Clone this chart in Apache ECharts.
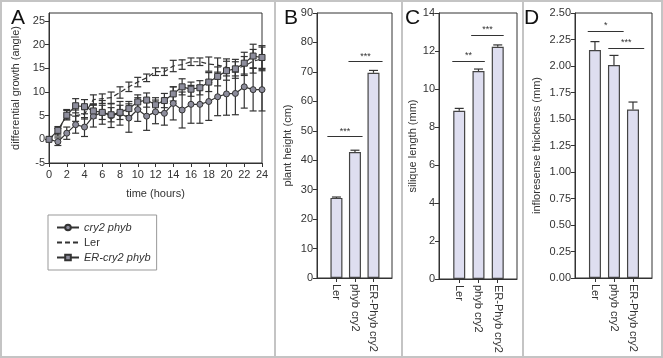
<!DOCTYPE html>
<html><head><meta charset="utf-8">
<script src="https://cdn.jsdelivr.net/npm/echarts@6/dist/echarts.min.js"></script>
<style>html,body{margin:0;padding:0;background:#fff}#c{width:663px;height:358px}</style>
</head><body><div id="c"></div>
<script>
// ---------- Panel A data ----------
const hours = [0,1,2,3,4,5,6,7,8,9,10,11,12,13,14,15,16,17,18,19,20,21,22,23,24];
const cry2phyb    = [0,-0.5,1.3,3.1,2.6,4.9,5.7,5.0,5.5,4.5,6.3,4.9,5.8,5.5,7.6,6.2,7.4,7.4,8.0,9.0,9.6,9.7,11.1,10.5,10.5];
const cry2phybErr = [0,0.8,1.3,1.8,2.0,2.3,2.5,2.5,2.5,3.0,2.5,3.0,2.5,2.5,3.5,3.8,4.0,4.0,4.0,4.0,4.5,4.5,4.5,4.5,4.5];
const ler         = [0,1.5,5.3,5.0,5.3,8.4,8.6,8.8,9.9,11.1,12.1,13.0,14.3,14.3,15.5,15.8,16.4,16.4,15.9,15.7,15.2,14.9,15.5,16.5,17.0];
const lerErr      = [0,0.8,1.0,1.2,1.0,1.0,1.0,1.2,1.2,1.0,1.0,0.8,0.8,0.8,1.2,1.0,0.8,0.8,1.5,1.5,1.8,1.5,2.0,2.5,2.5];
const erCry2      = [0,1.9,5.1,7.1,6.9,6.0,5.7,5.2,5.7,6.5,7.9,8.3,7.3,8.2,9.6,11.1,10.6,10.9,12.1,13.3,14.5,14.9,16.1,17.6,17.3];
const erCry2Err   = [0,0.8,1.0,1.5,1.5,1.5,1.5,1.5,1.5,1.5,1.5,1.5,1.5,1.5,1.5,1.7,1.5,1.5,2.0,2.0,2.0,2.0,2.3,2.5,2.5];
const yTicksA = [-5,0,5,10,15,20,25];

// ---------- Bar panels data ----------
const barCats = ['Ler','phyb cry2','ER-Phyb cry2'];
const heightVals = [27.2, 42.8, 69.7];
const heightErr  = [0.3, 0.6, 0.8];
const siliqueVals = [8.85, 10.95, 12.22];
const siliqueErr  = [0.13, 0.10, 0.10];
const thickVals = [2.15, 2.01, 1.59];
const thickErr  = [0.08, 0.09, 0.07];
// significance brackets: [fromX, toX, y, label]
const sigB = [[-0.49, 1.41, 48, '***'], [0.65, 2.49, 73.5, '***']];
const sigC = [[-0.36, 1.33, 11.47, '**'], [0.62, 2.31, 12.84, '***']];
const sigD = [[-0.38, 1.51, 2.33, '*'], [0.70, 2.59, 2.17, '***']];

const FONT = 'Liberation Sans, Arial, sans-serif';
const DARK = '#333';
const MARK = '#8d8d9c';
const BARFILL = '#dedef0';

const chart = echarts.init(document.getElementById('c'), null, {renderer:'canvas'});

function errData(vals, errs) {
  return hours.map((h, i) => [h, vals[i] - errs[i], vals[i] + errs[i]]);
}
function errSeries(vals, errs) {
  return {
    type: 'custom', xAxisIndex: 0, yAxisIndex: 0, z: 2, silent: true,
    encode: {x: 0, y: [1, 2]},
    data: errData(vals, errs),
    renderItem: (params, api) => {
      const x = api.value(0), lo = api.value(1), hi = api.value(2);
      if (hi - lo < 1e-9) return null;
      const a = api.coord([x, lo]), b = api.coord([x, hi]);
      const w = 3.5, st = {stroke: DARK, lineWidth: 1.2};
      return {type: 'group', children: [
        {type: 'line', shape: {x1: a[0], y1: a[1], x2: b[0], y2: b[1]}, style: st},
        {type: 'line', shape: {x1: a[0]-w, y1: a[1], x2: a[0]+w, y2: a[1]}, style: st},
        {type: 'line', shape: {x1: b[0]-w, y1: b[1], x2: b[0]+w, y2: b[1]}, style: st}
      ]};
    }
  };
}

const axisCommon = {
  axisLine: {onZero: false, lineStyle: {color: DARK, width: 1}},
  axisTick: {lineStyle: {color: DARK}, length: 4},
  axisLabel: {color: DARK, fontFamily: FONT, fontSize: 11, margin: 4},
  splitLine: {show: false},
  nameTextStyle: {color: DARK, fontFamily: FONT, fontSize: 11}
};

const grids = [
  {left: 49, right: 401, top: 13, bottom: 195},
  {left: 317, right: 271, top: 13, bottom: 80},
  {left: 439, right: 146, top: 13, bottom: 79},
  {left: 575, right: 11, top: 13, bottom: 80}
].map(g => Object.assign({show: true, borderColor: DARK, borderWidth: 1, backgroundColor: 'transparent', containLabel: false}, g));

const xAxes = [
  Object.assign({}, axisCommon, {
    gridIndex: 0, type: 'value', min: 0, max: 24, interval: 2,
    name: 'time (hours)', nameLocation: 'middle', nameGap: 25,
    axisLabel: Object.assign({}, axisCommon.axisLabel, {margin: 6})
  })
];
const yAxes = [
  Object.assign({}, axisCommon, {
    gridIndex: 0, type: 'value', min: -5, max: 26.7,
    name: 'differential growth (angle)', nameLocation: 'middle', nameGap: 28,
    axisLabel: Object.assign({}, axisCommon.axisLabel, {customValues: yTicksA}),
    axisTick: {lineStyle: {color: DARK}, length: 4, customValues: yTicksA}
  })
];

const series = [
  errSeries(ler, lerErr),
  errSeries(cry2phyb, cry2phybErr),
  errSeries(erCry2, erCry2Err),
  {name: 'Ler', type: 'line', xAxisIndex: 0, yAxisIndex: 0, z: 3,
   data: hours.map((h, i) => [h, ler[i]]), symbol: 'none',
   lineStyle: {color: DARK, width: 1.2, type: [5, 3]}, itemStyle: {color: DARK}},
  {name: 'cry2 phyb', type: 'line', xAxisIndex: 0, yAxisIndex: 0, z: 4,
   data: hours.map((h, i) => [h, cry2phyb[i]]), symbol: 'circle', symbolSize: 6, showSymbol: true,
   lineStyle: {color: DARK, width: 1.2}, itemStyle: {color: MARK, borderColor: DARK, borderWidth: 1}},
  {name: 'ER-cry2 phyb', type: 'line', xAxisIndex: 0, yAxisIndex: 0, z: 5,
   data: hours.map((h, i) => [h, erCry2[i]]), symbol: 'rect', symbolSize: 6, showSymbol: true,
   lineStyle: {color: DARK, width: 1.2}, itemStyle: {color: MARK, borderColor: DARK, borderWidth: 1}}
];

function barPanel(gi, vals, errs, yMax, interval, yName, nameGap, fmt, sigs) {
  xAxes.push(Object.assign({}, axisCommon, {
    gridIndex: gi, type: 'value', min: -1.05, max: 3.0,
    axisLabel: Object.assign({}, axisCommon.axisLabel, {
      customValues: [0, 1, 2], rotate: -90, margin: 6,
      formatter: v => barCats[Math.round(v)]
    }),
    axisTick: {lineStyle: {color: DARK}, length: 4, customValues: [0, 1, 2]}
  }));
  yAxes.push(Object.assign({}, axisCommon, {
    gridIndex: gi, type: 'value', min: 0, max: yMax, interval: interval,
    name: yName, nameLocation: 'middle', nameGap: nameGap,
    axisLabel: Object.assign({}, axisCommon.axisLabel, {formatter: fmt})
  }));
  const idx = xAxes.length - 1;
  series.push({
    type: 'bar', xAxisIndex: idx, yAxisIndex: idx, barWidth: 12, z: 2,
    data: vals.map((v, i) => [i, v]),
    itemStyle: {color: BARFILL, borderColor: '#444', borderWidth: 1.2},
    markLine: {
      symbol: 'none', silent: true, animation: false,
      lineStyle: {color: DARK, width: 1, type: 'solid'},
      label: {show: true, position: 'middle', color: DARK, fontFamily: FONT, fontSize: 9, distance: 1},
      emphasis: {disabled: true},
      data: sigs.map(s => [{coord: [s[0], s[2]], label: {formatter: s[3]}}, {coord: [s[1], s[2]]}])
    }
  });
  series.push({
    type: 'custom', xAxisIndex: idx, yAxisIndex: idx, z: 3, silent: true,
    encode: {x: 0, y: [1, 2]},
    data: vals.map((v, i) => [i, v, v + errs[i]]),
    renderItem: (params, api) => {
      const x = api.value(0), v = api.value(1), top = api.value(2);
      const a = api.coord([x, v]), b = api.coord([x, top]);
      const st = {stroke: DARK, lineWidth: 1.2};
      return {type: 'group', children: [
        {type: 'line', shape: {x1: a[0], y1: a[1], x2: b[0], y2: b[1]}, style: st},
        {type: 'line', shape: {x1: b[0]-4.5, y1: b[1], x2: b[0]+4.5, y2: b[1]}, style: st}
      ]};
    }
  });
}
barPanel(1, heightVals, heightErr, 90, 10, 'plant height (cm)', 24, v => String(v), sigB);
barPanel(2, siliqueVals, siliqueErr, 14, 2, 'silique length (mm)', 19, v => String(v), sigC);
barPanel(3, thickVals, thickErr, 2.5, 0.25, 'infloresense thickness (mm)', 33, v => v.toFixed(2), sigD);

const letter = (t, x) => ({type: 'text', left: x, top: 8, style: {text: t, fontFamily: FONT, fontSize: 21, fill: '#111'}});
const vline = x => ({type: 'line', shape: {x1: x, y1: 0, x2: x, y2: 358}, style: {stroke: '#c4c4c4', lineWidth: 2}});

chart.setOption({
  animation: false,
  backgroundColor: '#fff',
  grid: grids,
  xAxis: xAxes,
  yAxis: yAxes,
  legend: {
    left: 48, top: 215, orient: 'vertical',
    itemWidth: 22, itemHeight: 7, itemGap: 4,
    padding: [7, 6, 7, 8],
    borderColor: '#999', borderWidth: 1,
    textStyle: {color: DARK, fontFamily: FONT, fontSize: 11},
    data: [
      {name: 'cry2 phyb', textStyle: {fontStyle: 'italic'}},
      {name: 'Ler', itemStyle: {color: 'rgba(0,0,0,0)', borderWidth: 0, borderColor: 'rgba(0,0,0,0)'}},
      {name: 'ER-cry2 phyb', textStyle: {fontStyle: 'italic'}}
    ]
  },
  graphic: [
    {type: 'rect', shape: {x: 1, y: 1, width: 661, height: 356}, style: {fill: 'none', stroke: '#c4c4c4', lineWidth: 2}},
    vline(275), vline(402), vline(523),
    letter('A', 11), letter('B', 284), letter('C', 405), letter('D', 524)
  ],
  series: series
});
</script></body></html>
